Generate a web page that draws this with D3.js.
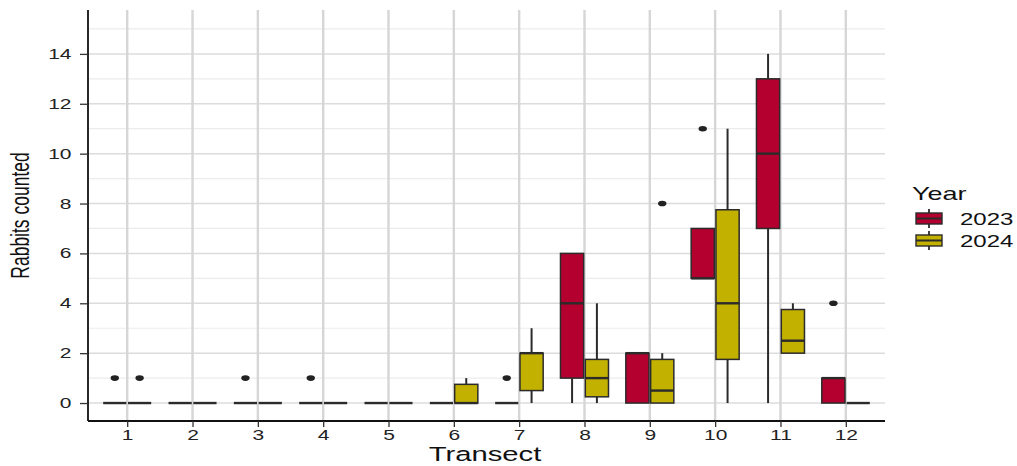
<!DOCTYPE html>
<html>
<head>
<meta charset="utf-8">
<script src="https://cdn.jsdelivr.net/npm/d3@7"></script>
<style>
  body { margin: 0; background: #fff; }
  svg { display: block; font-family: "Liberation Sans", Arial, sans-serif; }
</style>
</head>
<body>
<svg id="chart" width="1017" height="466"></svg>
<script>
// Rabbits counted per transect, box summaries by year
const transects = [1, 2, 3, 4, 5, 6, 7, 8, 9, 10, 11, 12];
const years = ['2023', '2024'];
const yTicks = [0, 2, 4, 6, 8, 10, 12, 14];
const yMinor = [1, 3, 5, 7, 9, 11, 13, 15];

const lo2023 = [0, 0, 0, 0, 0, 0, 0, 0, 0, 5, 0, 0];
const q1_2023 = [0, 0, 0, 0, 0, 0, 0, 1, 0, 5, 7, 0];
const med2023 = [0, 0, 0, 0, 0, 0, 0, 4, 2, 5, 10, 1];
const q3_2023 = [0, 0, 0, 0, 0, 0, 0, 6, 2, 7, 13, 1];
const hi2023 = [0, 0, 0, 0, 0, 0, 0, 6, 2, 7, 14, 1];
const out2023 = [[1], [], [1], [1], [], [], [1], [], [], [11], [], [4]];

const lo2024 = [0, 0, 0, 0, 0, 0, 0, 0, 0, 0, 2, 0];
const q1_2024 = [0, 0, 0, 0, 0, 0, 0.5, 0.25, 0, 1.75, 2, 0];
const med2024 = [0, 0, 0, 0, 0, 0, 2, 1, 0.5, 4, 2.5, 0];
const q3_2024 = [0, 0, 0, 0, 0, 0.75, 2, 1.75, 1.75, 7.75, 3.75, 0];
const hi2024 = [0, 0, 0, 0, 0, 1, 3, 4, 2, 11, 4, 0];
const out2024 = [[1], [], [], [], [], [], [], [], [8], [], [], []];

const stats = {
  '2023': { lo: lo2023, q1: q1_2023, med: med2023, q3: q3_2023, hi: hi2023, out: out2023 },
  '2024': { lo: lo2024, q1: q1_2024, med: med2024, q3: q3_2024, hi: hi2024, out: out2024 }
};

const width = 1017;
const height = 466;
const margin = { top: 10, right: 132, bottom: 45, left: 88 };
const ink = '#2b2b2b';
const sx = 1.5; // horizontal text stretch seen in the reference

const svg = d3.select('#chart');

const x = d3.scalePoint()
  .domain(transects)
  .range([margin.left, width - margin.right])
  .padding(0.6);
const step = x.step();

const y = d3.scaleLinear()
  .domain([-0.72, 15.76])
  .range([height - margin.bottom, margin.top]);

const color = d3.scaleOrdinal()
  .domain(years)
  .range(['#b3002f', '#c3b100']);

const offset = d3.scaleOrdinal()
  .domain(years)
  .range([-0.19 * step, 0.19 * step]);
const boxW = 0.355 * step;

// grid
const grid = svg.append('g');
grid.selectAll('line.minor')
  .data(yMinor)
  .join('line')
  .attr('x1', margin.left).attr('x2', width - margin.right)
  .attr('y1', d => y(d)).attr('y2', d => y(d))
  .attr('stroke', '#ececec').attr('stroke-width', 1.2);
grid.selectAll('line.major')
  .data(yTicks)
  .join('line')
  .attr('x1', margin.left).attr('x2', width - margin.right)
  .attr('y1', d => y(d)).attr('y2', d => y(d))
  .attr('stroke', '#dcdcdc').attr('stroke-width', 1.5);
grid.selectAll('line.vert')
  .data(transects)
  .join('line')
  .attr('x1', d => x(d)).attr('x2', d => x(d))
  .attr('y1', margin.top).attr('y2', height - margin.bottom)
  .attr('stroke', '#d6d6d6').attr('stroke-width', 2.4);

// boxes
years.forEach(yr => {
  const s = stats[yr];
  const rows = transects.map((t, i) => ({
    t, lo: s.lo[i], q1: s.q1[i], med: s.med[i], q3: s.q3[i], hi: s.hi[i], out: s.out[i]
  }));
  const g = svg.append('g');
  const box = g.selectAll('g')
    .data(rows)
    .join('g')
    .attr('transform', d => `translate(${x(d.t) + offset(yr)},0)`);

  box.append('line')
    .attr('y1', d => y(d.q3)).attr('y2', d => y(d.hi))
    .attr('stroke', ink).attr('stroke-width', 2);
  box.append('line')
    .attr('y1', d => y(d.q1)).attr('y2', d => y(d.lo))
    .attr('stroke', ink).attr('stroke-width', 2);
  box.append('rect')
    .attr('x', -boxW / 2)
    .attr('width', boxW)
    .attr('y', d => y(d.q3))
    .attr('height', d => y(d.q1) - y(d.q3))
    .attr('fill', color(yr))
    .attr('stroke', ink)
    .attr('stroke-width', 1.5);
  box.append('line')
    .attr('x1', -boxW / 2).attr('x2', boxW / 2)
    .attr('y1', d => y(d.med)).attr('y2', d => y(d.med))
    .attr('stroke', ink).attr('stroke-width', 2.4);
  box.selectAll('ellipse')
    .data(d => d.out)
    .join('ellipse')
    .attr('cy', d => y(d))
    .attr('rx', 4.2).attr('ry', 2.8)
    .attr('fill', '#222');
});

// axes
const yAxis = svg.append('g')
  .attr('transform', `translate(${margin.left},0)`)
  .call(d3.axisLeft(y).tickValues(yTicks).tickSize(8).tickPadding(3).tickSizeOuter(0));
const xAxis = svg.append('g')
  .attr('transform', `translate(0,${height - margin.bottom})`)
  .call(d3.axisBottom(x).tickSize(6).tickPadding(3).tickSizeOuter(0));

[yAxis, xAxis].forEach(a => {
  a.select('.domain').attr('stroke', '#111').attr('stroke-width', 1.8);
  a.selectAll('.tick line').attr('stroke', '#333').attr('stroke-width', 1.3);
  a.selectAll('.tick text')
    .attr('fill', '#222')
    .attr('font-size', 14)
    .attr('font-family', '"Liberation Sans", Arial, sans-serif')
    .attr('transform', `scale(${sx},1)`);
});
yAxis.select('.domain').attr('d', `M0,${margin.top}V${height - margin.bottom}`);
xAxis.select('.domain').attr('d', `M${margin.left},0H${width - margin.right}`);

// axis titles
svg.append('text')
  .attr('transform', `translate(485,461) scale(${sx},1)`)
  .attr('text-anchor', 'middle')
  .attr('font-size', 19.5)
  .attr('fill', '#111')
  .text('Transect');

svg.append('text')
  .attr('transform', `translate(29,${(margin.top + height - margin.bottom) / 2}) scale(${sx},1) rotate(-90)`)
  .attr('text-anchor', 'middle')
  .attr('font-size', 17.5)
  .attr('fill', '#111')
  .text('Rabbits counted');

// legend
const legend = svg.append('g');
legend.append('text')
  .attr('transform', `translate(912,200) scale(${sx},1)`)
  .attr('font-size', 18)
  .attr('fill', '#111')
  .text('Year');

const item = legend.selectAll('g.item')
  .data(years)
  .join('g')
  .attr('transform', (d, i) => `translate(916,${218.5 + i * 22})`);
item.append('line')
  .attr('x1', 13).attr('x2', 13).attr('y1', -9.5).attr('y2', 9.5)
  .attr('stroke', ink).attr('stroke-width', 1.8);
item.append('rect')
  .attr('x', 0).attr('y', -5.5).attr('width', 26).attr('height', 11)
  .attr('fill', d => color(d))
  .attr('stroke', ink).attr('stroke-width', 1.4);
item.append('line')
  .attr('x1', 0).attr('x2', 26).attr('y1', 0).attr('y2', 0)
  .attr('stroke', ink).attr('stroke-width', 2);
item.append('text')
  .attr('transform', `translate(44,6.5) scale(${sx},1)`)
  .attr('font-size', 16)
  .attr('fill', '#111')
  .text(d => d);
</script>
</body>
</html>
